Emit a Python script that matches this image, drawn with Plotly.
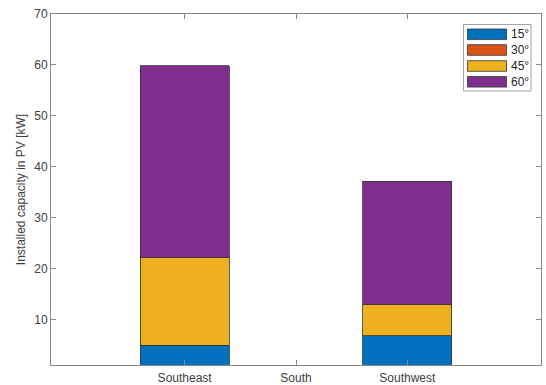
import plotly.graph_objects as go

categories = ["Southeast", "South", "Southwest"]
series_names = ["15°", "30°", "45°", "60°"]
values_15 = [5.0, 0.0, 6.8]
values_30 = [0.0, 0.0, 0.0]
values_45 = [17.2, 0.0, 6.1]
values_60 = [37.6, 0.0, 24.3]
colors = ["#0072BD", "#D95319", "#EDB120", "#7E2F8E"]
y_ticks = [10, 20, 30, 40, 50, 60, 70]

series_values = [values_15, values_30, values_45, values_60]

W, H = 546, 385
L, R, T, B = 51, 5, 14, 20
pw, ph = W - L - R, H - T - B

def px(x):
    return (x - L) / pw

def py(y):
    return (H - B - y) / ph

xpos = [1, 2, 3]
fig = go.Figure()
for name, vals, col in zip(series_names, series_values, colors):
    fig.add_trace(go.Bar(
        x=xpos, y=vals, name=name, width=0.8,
        marker=dict(color=col, line=dict(color="#333333", width=0.8)),
        showlegend=False,
    ))

font = dict(family="Liberation Sans, Arial, sans-serif", size=12, color="#404040")
axis_col = "#8a8a8a"

fig.update_layout(
    width=W, height=H,
    margin=dict(l=L, r=R, t=T, b=B, pad=0),
    barmode="stack",
    paper_bgcolor="white", plot_bgcolor="white",
    font=font,
    xaxis=dict(
        range=[-0.2, 4.2], tickvals=xpos, ticktext=categories,
        ticks="inside", ticklen=5, tickcolor=axis_col,
        showline=True, linecolor=axis_col, linewidth=1, mirror="ticks",
        showgrid=False, zeroline=False, tickfont=font, ticklabelstandoff=2,
        automargin=False,
    ),
    yaxis=dict(
        range=[1.1, 70], tickvals=y_ticks,
        ticks="inside", ticklen=5, tickcolor=axis_col,
        showline=True, linecolor=axis_col, linewidth=1, mirror="ticks",
        showgrid=False, zeroline=False, tickfont=font, automargin=False,
        title=dict(text="Installed capacity in PV [kW]", font=font, standoff=6),
    ),
)

# custom MATLAB-style legend
shapes = []
annotations = []
shapes.append(dict(type="rect", xref="paper", yref="paper",
                   x0=px(463.5), x1=px(531), y0=py(91), y1=py(24.5),
                   line=dict(color="#a0a0a0", width=1), fillcolor="white"))
centers = [34.3, 50.0, 66.0, 81.8]
for name, col, cy in zip(series_names, colors, centers):
    shapes.append(dict(type="rect", xref="paper", yref="paper",
                       x0=px(467.5), x1=px(506.5), y0=py(cy + 5.3), y1=py(cy - 5.3),
                       line=dict(color="#333333", width=0.8), fillcolor=col))
    annotations.append(dict(xref="paper", yref="paper", x=px(509), y=py(cy),
                            text=name, showarrow=False, xanchor="left", yanchor="middle",
                            font=dict(family="Liberation Sans, Arial, sans-serif", size=12, color="#262626")))
fig.update_layout(shapes=shapes, annotations=annotations)

fig.write_html("out.html")
